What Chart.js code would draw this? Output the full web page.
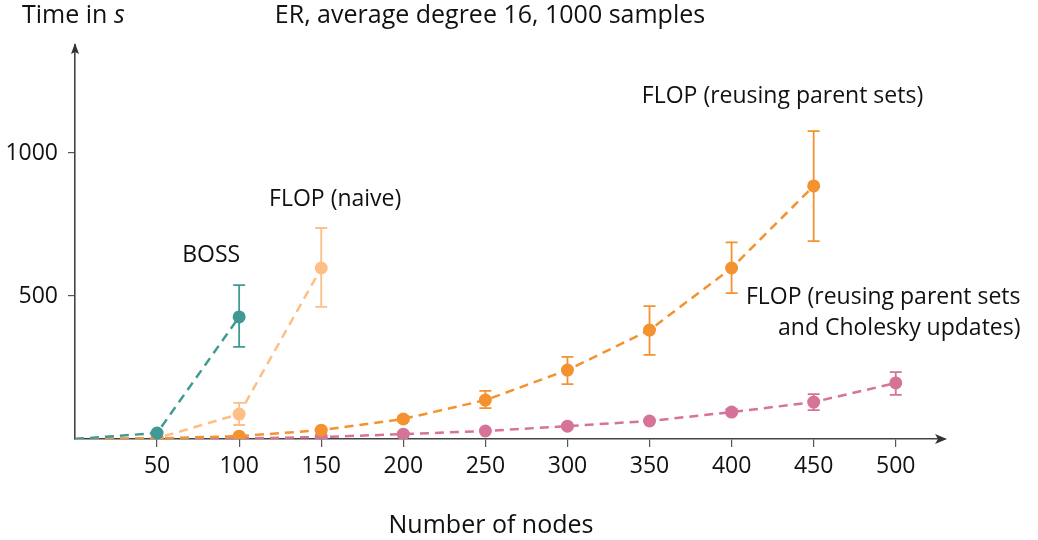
<!DOCTYPE html>
<html>
<head>
<meta charset="utf-8">
<script src="https://cdn.jsdelivr.net/npm/chart.js@4"></script>
<style>
  html, body { margin: 0; padding: 0; background: #fff; }
  #wrap { width: 1038px; height: 540px; }
</style>
</head>
<body>
<div id="wrap"><canvas id="c"></canvas></div>
<script>
// values (time in s)
const nodes = [0, 50, 100, 150, 200, 250, 300, 350, 400, 450, 500];
const xTicks = [50, 100, 150, 200, 250, 300, 350, 400, 450, 500];
const yTicks = [500, 1000];

const bossTime = [0, 21, 427];
const bossLow  = [null, null, 322];
const bossHigh = [null, null, 538];

const naiveTime = [0, 3, 87, 598];
const naiveLow  = [null, null, 49, 462];
const naiveHigh = [null, null, 126, 738];

const reuseTime = [0, 2, 10, 31, 70, 136, 241, 381, 598, 885];
const reuseLow  = [null, null, null, null, 62, 108, 192, 294, 510, 692];
const reuseHigh = [null, null, null, null, 80, 168, 287, 465, 688, 1077];

const cholTime = [0, 1, 2, 7, 17, 28, 45, 63, 94, 129, 196];
const cholLow  = [null, null, null, null, null, null, null, null, 86, 101, 154];
const cholHigh = [null, null, null, null, null, null, null, null, 104, 157, 234];

const FONT = '"Open Sans", "Noto Sans", sans-serif';

function series(label, vals, lo, hi, color, order) {
  return {
    label,
    data: vals.map((v, i) => ({ x: nodes[i], y: v, lo: lo[i], hi: hi[i] })),
    borderColor: color,
    backgroundColor: color,
    borderWidth: 2.5,
    borderDash: [9, 6],
    pointRadius: vals.map((v, i) => (i === 0 ? 0 : 6.5)),
    pointBorderWidth: 0,
    order
  };
}

// error bars with caps
const errorBars = {
  id: 'errorBars',
  afterDatasetsDraw(chart) {
    const { ctx, scales: { x, y } } = chart;
    chart.data.datasets.forEach(ds => {
      ctx.save();
      ctx.strokeStyle = ds.borderColor;
      ctx.lineWidth = 1.8;
      ds.data.forEach(p => {
        if (p.lo == null) return;
        const px = x.getPixelForValue(p.x);
        const y1 = y.getPixelForValue(p.lo);
        const y2 = y.getPixelForValue(p.hi);
        ctx.beginPath();
        ctx.moveTo(px, y1); ctx.lineTo(px, y2);
        ctx.moveTo(px - 6, y1); ctx.lineTo(px + 6, y1);
        ctx.moveTo(px - 6, y2); ctx.lineTo(px + 6, y2);
        ctx.stroke();
      });
      ctx.restore();
    });
  }
};

// arrows, titles and series labels
const decorations = {
  id: 'decorations',
  afterDraw(chart) {
    const { ctx, chartArea: a, scales: { x, y } } = chart;
    ctx.save();
    ctx.fillStyle = '#333';
    // x arrow
    ctx.beginPath();
    ctx.moveTo(a.right + 2, a.bottom);
    ctx.lineTo(a.right - 10, a.bottom - 5);
    ctx.lineTo(a.right - 7, a.bottom);
    ctx.lineTo(a.right - 10, a.bottom + 5);
    ctx.closePath();
    ctx.fill();
    // y arrow
    ctx.beginPath();
    ctx.moveTo(a.left, a.top - 2);
    ctx.lineTo(a.left - 4, a.top + 9);
    ctx.lineTo(a.left, a.top + 7);
    ctx.lineTo(a.left + 4, a.top + 9);
    ctx.closePath();
    ctx.fill();

    ctx.fillStyle = '#111';
    ctx.textBaseline = 'middle';
    ctx.font = '25px ' + FONT;
    ctx.textAlign = 'left';
    const t1 = 'Time in ';
    ctx.fillText(t1, 22, 16);
    const w = ctx.measureText(t1).width;
    ctx.font = 'italic 25px ' + FONT;
    ctx.fillText('s', 22 + w, 16);

    ctx.font = '25px ' + FONT;
    ctx.textAlign = 'center';
    ctx.fillText('ER, average degree 16, 1000 samples', 490, 16);
    ctx.fillText('Number of nodes', 491, 526);

    ctx.font = '23px ' + FONT;
    const lbl = (text, vx, vy, align) => {
      ctx.textAlign = align;
      ctx.fillText(text, x.getPixelForValue(vx), y.getPixelForValue(vy));
    };
    lbl('BOSS', 83, 643, 'center');
    lbl('FLOP (naive)', 158.5, 839, 'center');
    lbl('FLOP (reusing parent sets)', 431, 1199, 'center');
    lbl('FLOP (reusing parent sets', 576, 496, 'right');
    lbl('and Cholesky updates)', 576, 388, 'right');
    ctx.restore();
  }
};

new Chart(document.getElementById('c'), {
  type: 'line',
  data: {
    datasets: [
      series('BOSS', bossTime, bossLow, bossHigh, '#409a93', 1),
      series('FLOP (naive)', naiveTime, naiveLow, naiveHigh, '#fdbf86', 3),
      series('FLOP (reusing parent sets)', reuseTime, reuseLow, reuseHigh, '#f3922f', 2),
      series('FLOP (reusing parent sets and Cholesky updates)', cholTime, cholLow, cholHigh, '#d57399', 4)
    ]
  },
  options: {
    responsive: true,
    maintainAspectRatio: false,
    animation: false,
    layout: { padding: { top: 45, right: 93, left: 0, bottom: 0 } },
    plugins: { legend: { display: false }, tooltip: { enabled: false } },
    scales: {
      x: {
        type: 'linear',
        min: 0,
        max: 530,
        afterBuildTicks: s => { s.ticks = xTicks.map(v => ({ value: v })); },
        afterFit: s => { s.height = 101; },
        grid: { drawOnChartArea: false, drawTicks: true, tickLength: 8, color: '#555', lineWidth: 1.2 },
        border: { display: true, color: '#444', width: 1.6 },
        ticks: { color: '#111', font: { family: FONT, size: 23 }, padding: 6, maxRotation: 0, callback: v => String(v) }
      },
      y: {
        type: 'linear',
        min: 0,
        max: 1378,
        afterBuildTicks: s => { s.ticks = yTicks.map(v => ({ value: v })); },
        afterFit: s => { s.width = 75; },
        grid: { drawOnChartArea: false, drawTicks: true, tickLength: 7, color: '#555', lineWidth: 1.2 },
        border: { display: true, color: '#444', width: 1.6 },
        ticks: { color: '#111', font: { family: FONT, size: 23 }, padding: 10, callback: v => String(v) }
      }
    }
  },
  plugins: [errorBars, decorations]
});
</script>
</body>
</html>
